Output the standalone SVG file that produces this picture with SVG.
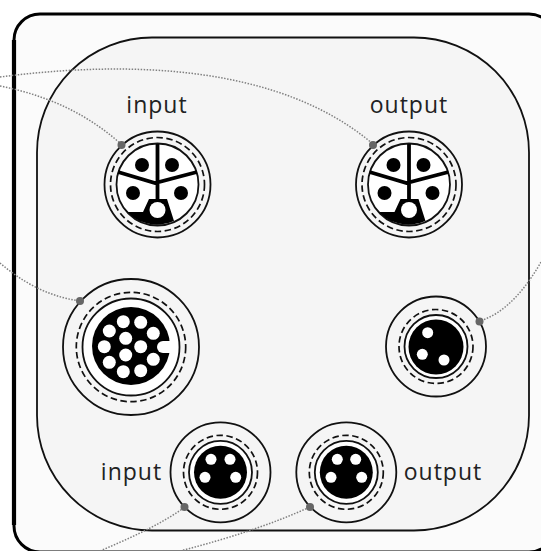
<svg xmlns="http://www.w3.org/2000/svg" width="541" height="551" viewBox="0 0 541 551">
<style>
.o{fill:none;stroke:#111;stroke-width:1.8}
.d{fill:none;stroke:#111;stroke-width:1.7;stroke-dasharray:6.500 3.500}
.w{fill:#fff;stroke:none}
.wr{fill:#fff;stroke:#111;stroke-width:1.8}
.k{fill:#000;stroke:none}
.s{fill:none;stroke:#000;stroke-width:3.800}
.c{fill:none;stroke:#808080;stroke-width:1.500;stroke-dasharray:1.500 1.500}
.p{fill:#666;stroke:none}
text{font-family:"Open Sans","DejaVu Sans",sans-serif;font-size:23px;letter-spacing:1px;fill:#222}
</style>
<rect width="541" height="551" fill="#fff"/>
<rect id="outer" x="14" y="14" width="541" height="538" rx="26" fill="#fbfbfb" stroke="#000" stroke-width="3"/>
<path d="M14 40V525" fill="none" stroke="#000" stroke-width="4.200"/>
<rect id="inner" x="37" y="37.500" width="492" height="493" rx="115" fill="#f5f5f5" stroke="#111" stroke-width="1.800"/>
<g id="connectors">
<path class="c" d="M0 86C45 95 85 112 121 144"/>
<path class="c" d="M0 77C130 60 280 65 373 144"/>
<path class="c" d="M0 263C20 280 45 296 80 301"/>
<path class="c" d="M541 262C525 290 505 313 480 321"/>
<path class="c" d="M100 551C130 538 160 525 185 507"/>
<path class="c" d="M180 551C230 538 270 525 310 507"/>
</g>
<g id="n1">
<circle class="o" cx="157.500" cy="184.500" r="53"/>
<circle class="d" cx="157.500" cy="184.500" r="47"/>
<circle class="wr" cx="157.500" cy="184.500" r="41"/>
<path class="s" d="M157.500 144V200M118 172L155 183L197 172"/>
<path class="k" d="M127 212H143L149 199H167L174 221A41 41 0 0 1 124 208Z"/>
<circle class="k" cx="142" cy="165" r="7"/><circle class="k" cx="172" cy="165" r="7"/>
<circle class="k" cx="133" cy="193" r="7"/><circle class="k" cx="181" cy="193" r="7"/>
<circle class="w" cx="157.500" cy="210" r="8"/>
<circle class="p" cx="121.500" cy="145" r="4"/>
<text x="157" y="113" text-anchor="middle">input</text>
</g>
<g id="n2">
<circle class="o" cx="409" cy="184.500" r="53"/>
<circle class="d" cx="409" cy="184.500" r="47"/>
<circle class="wr" cx="409" cy="184.500" r="41"/>
<path class="s" d="M409 144V200M369.500 172L406.500 183L448.500 172"/>
<path class="k" d="M378.500 212H394.500L400.500 199H418.500L425.500 221A41 41 0 0 1 375.500 208Z"/>
<circle class="k" cx="393.500" cy="165" r="7"/><circle class="k" cx="423.500" cy="165" r="7"/>
<circle class="k" cx="384.500" cy="193" r="7"/><circle class="k" cx="432.500" cy="193" r="7"/>
<circle class="w" cx="409" cy="210" r="8"/>
<circle class="p" cx="373" cy="145" r="4"/>
<text x="409" y="113" text-anchor="middle">output</text>
</g>
<g id="n3">
<circle class="o" cx="131" cy="347" r="68"/>
<circle class="d" cx="131" cy="347" r="54.700"/>
<circle class="wr" cx="131" cy="347" r="48.500"/>
<circle class="k" cx="131" cy="346" r="39"/>
<path class="w" d="M172 341h-9a6 6 0 0 0 0 12h9z"/>
<g class="w">
<circle cx="123.300" cy="321.700" r="6.500"/><circle cx="140.700" cy="322.300" r="6.500"/>
<circle cx="109.300" cy="331" r="6.500"/><circle cx="153.300" cy="333.300" r="6.500"/>
<circle cx="125.700" cy="338.300" r="6.500"/><circle cx="140.700" cy="346.700" r="6.500"/>
<circle cx="104.300" cy="346.700" r="6.500"/><circle cx="125.700" cy="355" r="6.500"/>
<circle cx="109.300" cy="362.300" r="6.500"/><circle cx="153.300" cy="359.300" r="6.500"/>
<circle cx="123.300" cy="371.700" r="6.500"/><circle cx="140.700" cy="370.700" r="6.500"/>
</g>
<circle class="p" cx="80" cy="301" r="4"/>
</g>
<g id="n4">
<circle class="o" cx="436" cy="346.500" r="50"/>
<circle class="d" cx="436" cy="346.500" r="37"/>
<circle class="wr" cx="436" cy="346.500" r="31.500"/>
<circle class="k" cx="436" cy="347" r="27.500"/>
<circle class="w" cx="427.700" cy="332.700" r="5.500"/><circle class="w" cx="422.300" cy="354.300" r="5.500"/><circle class="w" cx="444" cy="360" r="5.500"/>
<circle class="p" cx="479.500" cy="321.500" r="4"/>
</g>
<g id="n5">
<circle class="o" cx="220.500" cy="472.300" r="50"/>
<circle class="d" cx="220.500" cy="472.300" r="37"/>
<circle class="wr" cx="220.500" cy="472.300" r="31.500"/>
<circle class="k" cx="220.500" cy="472.300" r="26.500"/>
<circle class="w" cx="211" cy="459.300" r="5.500"/><circle class="w" cx="230" cy="459.300" r="5.500"/><circle class="w" cx="205" cy="477.300" r="5.500"/><circle class="w" cx="235.700" cy="477.300" r="5.500"/>
<circle class="p" cx="184.500" cy="507" r="4"/>
<text x="131.500" y="480" text-anchor="middle">input</text>
</g>
<g id="n6">
<circle class="o" cx="346.300" cy="472.300" r="50"/>
<circle class="d" cx="346.300" cy="472.300" r="37"/>
<circle class="wr" cx="346.300" cy="472.300" r="31.500"/>
<circle class="k" cx="346.300" cy="472.300" r="26.500"/>
<circle class="w" cx="337.300" cy="459.300" r="5.500"/><circle class="w" cx="355.700" cy="459.300" r="5.500"/><circle class="w" cx="331" cy="477.300" r="5.500"/><circle class="w" cx="361.700" cy="477.300" r="5.500"/>
<circle class="p" cx="310" cy="507" r="4"/>
<text x="443" y="480" text-anchor="middle">output</text>
</g>
</svg>
